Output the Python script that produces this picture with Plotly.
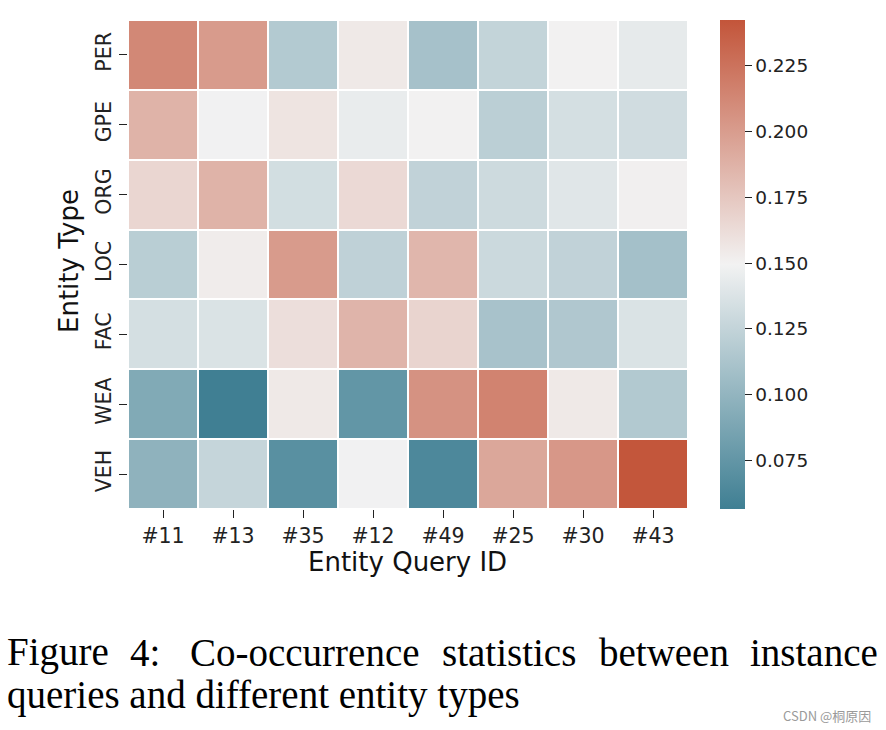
import plotly.graph_objects as go

# ---- data ----
query_ids = ["#11", "#13", "#35", "#12", "#49", "#25", "#30", "#43"]
entity_types = ["PER", "GPE", "ORG", "LOC", "FAC", "WEA", "VEH"]

per = [0.212, 0.201, 0.117, 0.155, 0.110, 0.125, 0.150, 0.143]
gpe = [0.187, 0.149, 0.158, 0.145, 0.150, 0.121, 0.134, 0.132]
org = [0.166, 0.187, 0.133, 0.164, 0.124, 0.130, 0.140, 0.151]
loc = [0.120, 0.153, 0.201, 0.123, 0.185, 0.129, 0.124, 0.109]
fac = [0.134, 0.137, 0.161, 0.186, 0.167, 0.111, 0.115, 0.137]
wea = [0.091, 0.057, 0.155, 0.075, 0.206, 0.215, 0.155, 0.116]
veh = [0.098, 0.126, 0.070, 0.149, 0.064, 0.194, 0.203, 0.242]

z = [per, gpe, org, loc, fac, wea, veh]

cbar_ticks = [0.075, 0.100, 0.125, 0.150, 0.175, 0.200, 0.225]
zmin, zmax = 0.0566, 0.2423

caption_line1 = ["Figure", "4:", "Co-occurrence", "statistics", "between", "instance"]
caption_line2 = "queries and different entity types"
watermark = "CSDN @桐原因"

# ---- layout helpers (pixel -> paper) ----
W, H = 886, 730
L, R, T, B = 128, 688, 20, 509


def px(xp):
    return (xp - L) / (R - L)


def py(yp):
    return (B - yp) / (B - T)


colorscale = [[0.0, "#3f7f93"], [0.5, "#f2f2f2"], [1.0, "#c3553a"]]

fig = go.Figure(
    go.Heatmap(
        z=z,
        x=query_ids,
        y=entity_types,
        zmin=zmin,
        zmax=zmax,
        colorscale=colorscale,
        xgap=2,
        ygap=2,
        hoverongaps=False,
        colorbar=dict(
            x=px(720),
            xanchor="left",
            xpad=0,
            y=0.5,
            yanchor="middle",
            len=1.0,
            lenmode="fraction",
            ypad=0,
            thickness=25,
            thicknessmode="pixels",
            outlinewidth=0,
            ticks="outside",
            ticklen=7,
            tickwidth=1.2,
            tickcolor="#222",
            tickvals=cbar_ticks,
            tickformat=".3f",
            tickfont=dict(family="DejaVu Sans", size=18.5, color="#222"),
        ),
    )
)

fig.update_layout(
    width=W,
    height=H,
    margin=dict(l=L, r=W - R, t=T, b=H - B, autoexpand=False),
    paper_bgcolor="white",
    plot_bgcolor="white",
    font=dict(family="DejaVu Sans", color="#222"),
    xaxis=dict(
        showgrid=False,
        zeroline=False,
        ticks="outside",
        ticklen=8,
        tickwidth=1.2,
        tickcolor="#222",
        tickfont=dict(family="DejaVu Sans", size=20.5, color="#222"),
        showline=False,
    ),
    yaxis=dict(
        autorange="reversed",
        showgrid=False,
        zeroline=False,
        ticks="outside",
        ticklen=8,
        tickwidth=1.2,
        tickcolor="#222",
        tickangle=-90,
        tickfont=dict(family="DejaVu Sans", size=20.5, color="#222"),
        showline=False,
    ),
)

annotations = [
    dict(text="Entity Query ID", x=px(407), y=py(562), xref="paper", yref="paper",
         showarrow=False, xanchor="center", yanchor="middle",
         font=dict(family="DejaVu Sans", size=26, color="#111")),
    dict(text="Entity Type", x=px(69), y=py(261), xref="paper", yref="paper",
         showarrow=False, xanchor="center", yanchor="middle", textangle=-90,
         font=dict(family="DejaVu Sans", size=26, color="#111")),
]

line1_x = [5, 128, 188, 440, 597, 748]
for word, xl in zip(caption_line1, line1_x):
    annotations.append(dict(text=word, x=px(xl), y=py(652), xref="paper", yref="paper",
                            showarrow=False, xanchor="left", yanchor="middle",
                            font=dict(family="Liberation Serif", size=39, color="#000")))
annotations.append(dict(text=caption_line2, x=px(5), y=py(695), xref="paper", yref="paper",
                        showarrow=False, xanchor="left", yanchor="middle",
                        font=dict(family="Liberation Serif", size=39, color="#000")))
annotations.append(dict(text=watermark, x=px(873), y=py(715), xref="paper", yref="paper",
                        showarrow=False, xanchor="right", yanchor="middle",
                        font=dict(family="Noto Sans CJK SC", size=13, color="#9a9a9a")))

fig.update_layout(annotations=annotations)

fig.write_html("out.html", config={"displayModeBar": False},
               post_script="document.body.style.margin='0';")
